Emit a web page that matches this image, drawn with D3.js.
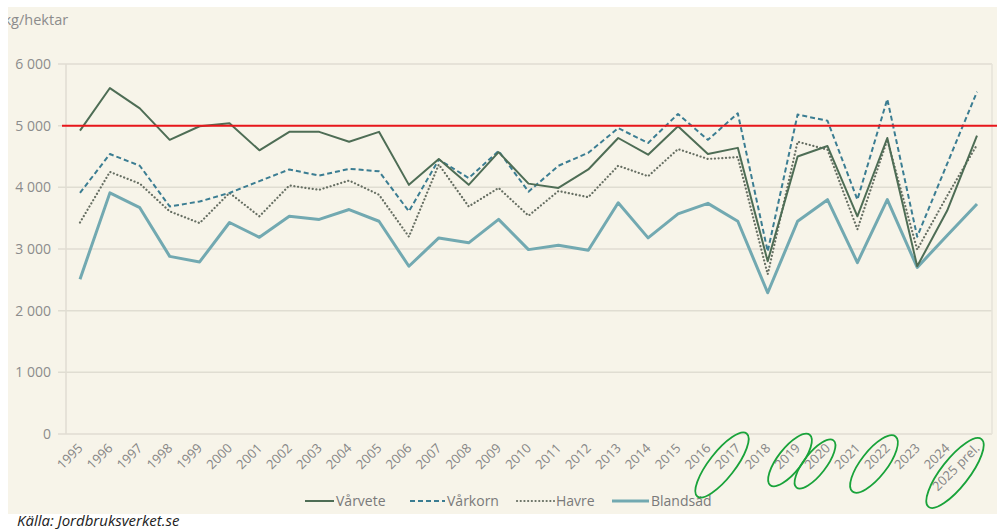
<!DOCTYPE html>
<html>
<head>
<meta charset="utf-8">
<script src="https://cdn.jsdelivr.net/npm/d3@7"></script>
<style>
  body { margin: 0; background: #fff; }
  svg { display: block; font-family: 'Open Sans', sans-serif; }
</style>
</head>
<body>
<svg class="canvas" width="997" height="529"></svg>
<script>
// data
const years = ['1995', '1996', '1997', '1998', '1999', '2000', '2001', '2002', '2003', '2004',
    '2005', '2006', '2007', '2008', '2009', '2010', '2011', '2012', '2013', '2014',
    '2015', '2016', '2017', '2018', '2019', '2020', '2021', '2022', '2023', '2024', '2025 prel.'];
const varvete = [4920, 5610, 5280, 4770, 4990, 5040, 4600, 4900, 4900, 4740,
    4900, 4040, 4460, 4040, 4570, 4060, 3990, 4290, 4800, 4530,
    4990, 4540, 4640, 2800, 4500, 4670, 3530, 4800, 2720, 3620, 4840];
const varkorn = [3910, 4540, 4350, 3690, 3770, 3910, 4100, 4290, 4190, 4300,
    4260, 3610, 4450, 4150, 4590, 3930, 4350, 4560, 4960, 4720,
    5190, 4770, 5200, 2960, 5180, 5080, 3800, 5430, 3200, 4380, 5550];
const havre = [3430, 4250, 4060, 3610, 3420, 3910, 3530, 4030, 3960, 4110,
    3880, 3200, 4370, 3690, 3990, 3540, 3940, 3840, 4350, 4180,
    4620, 4460, 4490, 2590, 4740, 4610, 3320, 4770, 2990, 3860, 4690];
const blandsad = [2510, 3910, 3670, 2880, 2790, 3430, 3190, 3530, 3480, 3640,
    3450, 2720, 3180, 3100, 3480, 2990, 3060, 2980, 3750, 3180,
    3570, 3740, 3450, 2290, 3450, 3800, 2780, 3800, 2700, 3220, 3730];
const yTicks = [0, 1000, 2000, 3000, 4000, 5000, 6000];
const refValue = 5000;
const circled = ['2017', '2019', '2020', '2022', '2025 prel.'];

const series = [
    { name: 'Vårvete', values: varvete, color: '#4e6d55', width: 2, dash: null, cap: 'butt' },
    { name: 'Vårkorn', values: varkorn, color: '#3b7d92', width: 2, dash: '5,3', cap: 'butt' },
    { name: 'Havre', values: havre, color: '#676f63', width: 2.2, dash: '0.1,3.6', cap: 'round' },
    { name: 'Blandsäd', values: blandsad, color: '#72a9b1', width: 3, dash: null, cap: 'butt' },
];

const svg = d3.select('.canvas');
const width = 997;
const plot = { left: 66, right: 992, top: 64, bottom: 434 };

// cream panel
svg.append('rect')
    .attr('x', 8).attr('y', 7)
    .attr('width', width - 8).attr('height', 507)
    .attr('fill', '#f7f4e9');
svg.append('clipPath').attr('id', 'panel')
    .append('rect').attr('x', 8).attr('y', 7).attr('width', width - 8).attr('height', 507);

const xScale = d3.scalePoint().domain(years).range([80, 977]);
const yScale = d3.scaleLinear().domain([0, 6000]).range([plot.bottom, plot.top]);

// grid lines
svg.append('g')
    .selectAll('line')
    .data(yTicks)
    .enter()
    .append('line')
    .attr('x1', 58).attr('x2', plot.right)
    .attr('y1', (d) => yScale(d)).attr('y2', (d) => yScale(d))
    .attr('stroke', '#e0ddd2')
    .attr('stroke-width', 1.5);
svg.append('line')
    .attr('x1', plot.left).attr('x2', plot.left)
    .attr('y1', plot.top).attr('y2', plot.bottom)
    .attr('stroke', '#e0ddd2').attr('stroke-width', 1.5);
svg.append('line')
    .attr('x1', plot.right).attr('x2', plot.right)
    .attr('y1', plot.top).attr('y2', plot.bottom)
    .attr('stroke', '#e6e3d9').attr('stroke-width', 1.5);

// y axis
const yAxis = d3.axisLeft(yScale)
    .tickValues(yTicks)
    .tickSize(0)
    .tickPadding(0)
    .tickFormat((d) => d3.format(',')(d).replace(',', ' '));
const yG = svg.append('g').attr('transform', 'translate(51, 0)').call(yAxis);
yG.select('.domain').remove();
yG.selectAll('text')
    .attr('fill', '#8c8c8c')
    .style('font-size', '14px')
    .style('font-family', "'Open Sans', sans-serif");

// unit label (its first letter is cut by the panel edge)
svg.append('text')
    .attr('clip-path', 'url(#panel)')
    .attr('x', 3.5).attr('y', 25)
    .attr('fill', '#8c8c8c')
    .style('font-size', '14.5px')
    .text('kg/hektar');

// x axis
const xAxis = d3.axisBottom(xScale).tickSize(0).tickPadding(0);
const xG = svg.append('g').attr('transform', `translate(0, ${plot.bottom})`).call(xAxis);
xG.select('.domain').remove();
xG.selectAll('text')
    .attr('fill', '#858585')
    .attr('text-anchor', 'end')
    .attr('dy', null)
    .attr('y', 0)
    .attr('transform', 'translate(3, 15) rotate(-45)')
    .style('font-size', '13px')
    .style('font-family', "'Open Sans', sans-serif");

// series lines
const line = d3.line()
    .x((d, i) => xScale(years[i]))
    .y((d) => yScale(d));
series.slice().reverse().forEach((s) => {
    svg.append('path')
        .datum(s.values)
        .attr('d', line)
        .attr('fill', 'none')
        .attr('stroke', s.color)
        .attr('stroke-width', s.width)
        .attr('stroke-dasharray', s.dash)
        .attr('stroke-linecap', s.cap)
        .attr('stroke-linejoin', 'round');
});

// 5000 reference line
svg.append('line')
    .attr('x1', 62).attr('x2', width)
    .attr('y1', yScale(refValue)).attr('y2', yScale(refValue))
    .attr('stroke', '#e8161b')
    .attr('stroke-width', 2);

// legend
const legendItems = [
    { x: 305, tx: 336 },
    { x: 410, tx: 447 },
    { x: 517, tx: 556 },
    { x: 612, tx: 651 },
];
const legend = svg.append('g');
series.forEach((s, i) => {
    const pos = legendItems[i];
    legend.append('line')
        .attr('x1', pos.x).attr('x2', pos.tx - 2)
        .attr('y1', 501).attr('y2', 501)
        .attr('stroke', s.color)
        .attr('stroke-width', s.width)
        .attr('stroke-dasharray', s.dash)
        .attr('stroke-linecap', s.cap);
    legend.append('text')
        .attr('x', pos.tx).attr('y', 506)
        .attr('fill', '#7a7a7a')
        .style('font-size', '14px')
        .text(s.name);
});

// hand-drawn circles round some years
const ellipses = { '2017': [722, 465, 40, 13], '2019': [790, 460, 32, 12], '2020': [815, 464, 30, 11],
    '2022': [874, 464, 35, 13], '2025 prel.': [955, 473, 43, 14] };
circled.forEach((y) => {
    const [cx, cy, rx, ry] = ellipses[y];
    svg.append('ellipse')
        .attr('cx', cx).attr('cy', cy)
        .attr('rx', rx).attr('ry', ry)
        .attr('transform', `rotate(-52, ${cx}, ${cy})`)
        .attr('fill', 'none')
        .attr('stroke', '#19a33a')
        .attr('stroke-width', 1.8);
});

// source
svg.append('text')
    .attr('x', 17).attr('y', 526)
    .attr('fill', '#222')
    .style('font-size', '15px')
    .style('font-style', 'italic')
    .text('Källa: Jordbruksverket.se');
</script>
</body>
</html>
